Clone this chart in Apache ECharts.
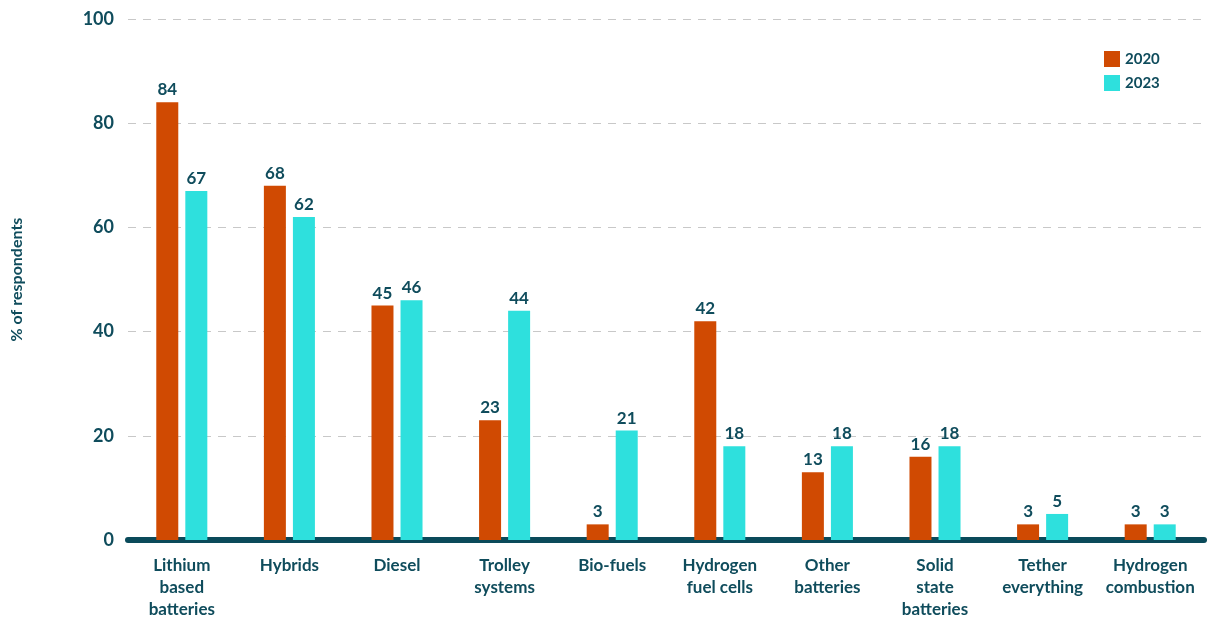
<!DOCTYPE html>
<html><head><meta charset="utf-8">
<script src="https://cdn.jsdelivr.net/npm/echarts@6/dist/echarts.min.js"></script>
<style>html,body{margin:0;padding:0;background:#fff}#c{width:1207px;height:618px}</style>
</head><body><div id="c"></div>
<script>
const categories = ["Lithium\nbased\nbatteries","Hybrids","Diesel","Trolley\nsystems","Bio-fuels","Hydrogen\nfuel cells","Other\nbatteries","Solid\nstate\nbatteries","Tether\neverything","Hydrogen\ncombustion"];
const values2020 = [84,68,45,23,3,42,13,16,3,3];
const values2023 = [67,62,46,44,21,18,18,18,5,3];
const yTicks = [0,20,40,60,80,100];
const textColor = '#0f4c5c';
const font = 'Lato, "Open Sans", sans-serif';
const chart = echarts.init(document.getElementById('c'));
const lbl = {show:true,position:'top',color:textColor,fontWeight:'bold',fontSize:17,fontFamily:font,distance:4};
chart.setOption({
  animation:false,
  grid:{left:128,right:3,top:19,bottom:78,containLabel:false,outerBoundsMode:'none'},
  legend:{data:['2020','2023'],left:1099,top:46,orient:'vertical',itemWidth:16,itemHeight:16,itemGap:8,icon:'rect',
    textStyle:{color:textColor,fontWeight:'bold',fontSize:15,fontFamily:font}},
  xAxis:{type:'category',data:categories,axisTick:{show:false},
    axisLine:{lineStyle:{color:'#0a4a5a',width:6}},
    axisLabel:{color:textColor,fontWeight:'bold',fontSize:17,fontFamily:font,lineHeight:22,margin:15,interval:0}},
  yAxis:{type:'value',min:0,max:100,interval:20,
    name:'% of respondents',nameLocation:'middle',nameGap:103,nameRotate:90,
    nameTextStyle:{color:textColor,fontWeight:'bold',fontSize:16,fontFamily:font},
    axisLabel:{color:textColor,fontWeight:'bold',fontSize:18,fontFamily:font,margin:14,
      formatter:v=>yTicks.includes(v)?String(v):''},
    splitLine:{lineStyle:{color:'#c8c8c8',type:[8,7],width:1}}},
  series:[
    {name:'2020',type:'bar',data:values2020,barWidth:22,barGap:'32%',itemStyle:{color:'#d04a02'},label:lbl},
    {name:'2023',type:'bar',data:values2023,barWidth:22,itemStyle:{color:'#2ee0dd'},label:lbl}
  ]
});
</script></body></html>
